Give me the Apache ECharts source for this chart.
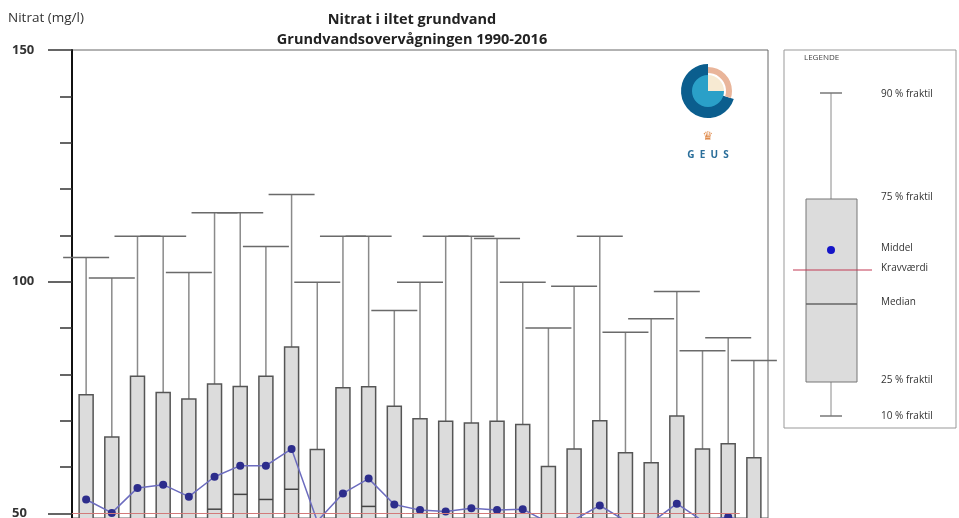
<!DOCTYPE html>
<html>
<head>
<meta charset="utf-8">
<script src="https://cdn.jsdelivr.net/npm/echarts@6/dist/echarts.min.js"></script>
<style>
  html, body { margin: 0; padding: 0; background: #fff; }
  #main { width: 959px; height: 518px; }
</style>
</head>
<body>
<div id="main"></div>
<script>
// years 1990-2016
var years = [1990, 1991, 1992, 1993, 1994, 1995, 1996, 1997, 1998, 1999, 2000, 2001, 2002, 2003,
  2004, 2005, 2006, 2007, 2008, 2009, 2010, 2011, 2012, 2013, 2014, 2015, 2016];
// 90 % fraktil
var p90 = [105.2, 100.8, 109.8, 109.8, 102.0, 114.9, 114.9, 107.6, 118.8, 99.9, 109.8, 109.8, 93.8, 99.9,
  109.8, 109.8, 109.3, 99.9, 90.0, 99.0, 109.8, 89.1, 92.0, 97.9, 85.1, 87.9, 83.0];
// 75 % fraktil
var p75 = [75.6, 66.5, 79.6, 76.1, 74.7, 77.9, 77.4, 79.6, 85.9, 63.8, 77.1, 77.3, 73.1, 70.4,
  69.9, 69.5, 69.9, 69.2, 60.1, 63.9, 70.0, 63.1, 60.9, 71.0, 63.9, 65.0, 62.0];
// median
var median = [42, 38, 46, 44, 40, 50.9, 54.1, 53.0, 55.2, 35, 45, 51.5, 40, 38,
  36, 37, 38, 37, 32, 34, 40, 33, 30, 38, 32, 33, 31];
// middel
var mean = [53.0, 50.1, 55.5, 56.2, 53.6, 57.9, 60.3, 60.3, 63.9, 48.3, 54.3, 57.5, 51.9, 50.7,
  50.4, 51.1, 50.7, 50.9, 48.0, 48.6, 51.7, 48.4, 48.0, 52.1, 48.4, 49.2, 48.0];
// 25 % fraktil
var p25 = [15, 12, 18, 16, 14, 17, 18, 17, 20, 10, 16, 18, 13, 12,
  11, 11, 12, 11, 8, 9, 12, 8, 7, 10, 8, 8, 7];
// 10 % fraktil
var p10 = [1, 1, 1, 1, 1, 1, 1, 1, 1, 1, 1, 1, 1, 1,
  1, 1, 1, 1, 1, 1, 1, 1, 1, 1, 1, 1, 1];
var kravvaerdi = 50;
var majorTicks = [50, 100, 150];
var minorTicks = [60, 70, 80, 90, 110, 120, 130, 140];

var boxData = years.map(function (y, i) {
  return [y, p10[i], p25[i], median[i], p75[i], p90[i]];
});
var meanData = years.map(function (y, i) { return [y, mean[i]]; });

var chart = echarts.init(document.getElementById('main'));

function renderBox(params, api) {
  var x = api.value(0);
  var c10 = api.coord([x, api.value(1)]);
  var c25 = api.coord([x, api.value(2)]);
  var cMed = api.coord([x, api.value(3)]);
  var c75 = api.coord([x, api.value(4)]);
  var c90 = api.coord([x, api.value(5)]);
  var bw = 14, cw = 46, cx = c90[0];
  var whisker = { stroke: '#8a8a8a', lineWidth: 1.5 };
  var cap = { stroke: '#6a6a6a', lineWidth: 1.5 };
  return {
    type: 'group',
    children: [
      { type: 'line', shape: { x1: cx, y1: c90[1], x2: cx, y2: c75[1] }, style: whisker },
      { type: 'line', shape: { x1: cx - cw / 2, y1: c90[1], x2: cx + cw / 2, y2: c90[1] }, style: cap },
      { type: 'line', shape: { x1: cx, y1: c25[1], x2: cx, y2: c10[1] }, style: whisker },
      { type: 'line', shape: { x1: cx - cw / 2, y1: c10[1], x2: cx + cw / 2, y2: c10[1] }, style: cap },
      { type: 'rect', shape: { x: cx - bw / 2, y: c75[1], width: bw, height: c25[1] - c75[1] },
        style: { fill: '#dcdcdc', stroke: '#555', lineWidth: 1.5 } },
      { type: 'line', shape: { x1: cx - bw / 2, y1: cMed[1], x2: cx + bw / 2, y2: cMed[1] },
        style: { stroke: '#444', lineWidth: 1.5 } }
    ]
  };
}

var option = {
  backgroundColor: '#fff',
  animation: false,
  textStyle: { fontFamily: 'Open Sans' },
  title: {
    text: 'Nitrat i iltet grundvand\nGrundvandsovervågningen 1990-2016',
    left: 407,
    top: 5,
    textAlign: 'center',
    textStyle: { fontSize: 14.5, fontWeight: 'bold', color: '#222', lineHeight: 20, fontFamily: 'Open Sans' }
  },
  grid: {
    left: 72, right: 191, top: 50, bottom: 0,
    show: true, borderColor: '#666', borderWidth: 1,
    outerBoundsMode: 'none'
  },
  xAxis: {
    type: 'value', min: 1989.45, max: 2016.55, show: false
  },
  yAxis: [{
    type: 'value', min: 49, max: 150, position: 'left',
    axisLine: { show: true, lineStyle: { color: '#111', width: 2 } },
    axisTick: { show: true, length: 24, customValues: majorTicks, lineStyle: { color: '#333', width: 1.5 } },
    axisLabel: {
      show: true, customValues: majorTicks, align: 'left', margin: 60,
      fontSize: 13, fontWeight: 'bold', color: '#333', fontFamily: 'Open Sans'
    },
    splitLine: { show: false }
  }, {
    type: 'value', min: 49, max: 150, position: 'left',
    axisLine: { show: false },
    axisTick: { show: true, length: 12, customValues: minorTicks, lineStyle: { color: '#333', width: 1.5 } },
    axisLabel: { show: false },
    splitLine: { show: false }
  }],
  series: [{
    type: 'custom',
    name: 'Fraktiler',
    renderItem: renderBox,
    encode: { x: 0, y: [1, 2, 3, 4, 5] },
    data: boxData,
    clip: false,
    z: 2
  }, {
    type: 'line',
    name: 'Middel',
    data: meanData,
    symbol: 'circle',
    symbolSize: 8,
    itemStyle: { color: '#2d2d8c' },
    lineStyle: { color: '#6c6cbf', width: 1.5 },
    z: 4,
    markLine: {
      silent: true,
      symbol: 'none',
      label: { show: false },
      lineStyle: { color: '#d27a7a', width: 1, type: 'solid' },
      data: [[{ coord: [years[0] - 0.55, kravvaerdi] }, { coord: [years[years.length - 1] - 0.55, kravvaerdi] }]]
    }
  }],
  graphic: [
    { type: 'text', left: 8, top: 11, style: { text: 'Nitrat (mg/l)', fontSize: 13.5, fill: '#333', fontFamily: 'Open Sans' } },
    // GEUS logo
    { type: 'sector', shape: { cx: 708, cy: 91, r: 27, r0: 0, startAngle: 0.3, endAngle: Math.PI * 1.5 }, style: { fill: '#0b5e8e' } },
    { type: 'sector', shape: { cx: 708, cy: 91, r: 24, r0: 18, startAngle: -Math.PI / 2, endAngle: 0.3 }, style: { fill: '#e9b59a' } },
    { type: 'sector', shape: { cx: 708, cy: 91, r: 16, r0: 0, startAngle: 0, endAngle: Math.PI * 1.5 }, style: { fill: '#2aa0c8' } },
    { type: 'sector', shape: { cx: 708, cy: 91, r: 16, r0: 0, startAngle: -Math.PI / 2, endAngle: 0 }, style: { fill: '#f7ead2' } },
    { type: 'text', x: 708, y: 137, style: { text: '♛', fontSize: 12, fill: '#e08a4a', align: 'center', verticalAlign: 'middle', fontFamily: 'DejaVu Sans' } },
    { type: 'text', x: 708, y: 155, style: { text: 'G  E  U  S', fontSize: 10, fontWeight: 'bold', fill: '#2a6e9a', align: 'center', verticalAlign: 'middle', fontFamily: 'Open Sans' } },
    // legend box
    { type: 'rect', shape: { x: 784, y: 50, width: 172, height: 378 }, style: { fill: 'none', stroke: '#999', lineWidth: 1 } },
    { type: 'text', x: 804, y: 58, style: { text: 'LEGENDE', fontSize: 8, fill: '#444', verticalAlign: 'middle', fontFamily: 'Open Sans' } },
    { type: 'line', shape: { x1: 831, y1: 93, x2: 831, y2: 199 }, style: { stroke: '#8a8a8a', lineWidth: 1 } },
    { type: 'line', shape: { x1: 820, y1: 93, x2: 842, y2: 93 }, style: { stroke: '#777', lineWidth: 1.5 } },
    { type: 'line', shape: { x1: 831, y1: 382, x2: 831, y2: 416 }, style: { stroke: '#8a8a8a', lineWidth: 1 } },
    { type: 'line', shape: { x1: 820, y1: 416, x2: 842, y2: 416 }, style: { stroke: '#777', lineWidth: 1.5 } },
    { type: 'rect', shape: { x: 806, y: 199, width: 51, height: 183 }, style: { fill: '#dcdcdc', stroke: '#777', lineWidth: 1 } },
    { type: 'line', shape: { x1: 806, y1: 304, x2: 857, y2: 304 }, style: { stroke: '#666', lineWidth: 1.5 } },
    { type: 'line', shape: { x1: 793, y1: 270, x2: 872, y2: 270 }, style: { stroke: '#c23a55', lineWidth: 1.2 } },
    { type: 'circle', shape: { cx: 831, cy: 250, r: 4 }, style: { fill: '#1515c8' } },
    { type: 'text', x: 881, y: 94, style: { text: '90 % fraktil', fontSize: 10, fill: '#333', verticalAlign: 'middle', fontFamily: 'Open Sans' } },
    { type: 'text', x: 881, y: 197, style: { text: '75 % fraktil', fontSize: 10, fill: '#333', verticalAlign: 'middle', fontFamily: 'Open Sans' } },
    { type: 'text', x: 881, y: 248, style: { text: 'Middel', fontSize: 10, fill: '#333', verticalAlign: 'middle', fontFamily: 'Open Sans' } },
    { type: 'text', x: 881, y: 268, style: { text: 'Kravværdi', fontSize: 10, fill: '#333', verticalAlign: 'middle', fontFamily: 'Open Sans' } },
    { type: 'text', x: 881, y: 302, style: { text: 'Median', fontSize: 10, fill: '#333', verticalAlign: 'middle', fontFamily: 'Open Sans' } },
    { type: 'text', x: 881, y: 380, style: { text: '25 % fraktil', fontSize: 10, fill: '#333', verticalAlign: 'middle', fontFamily: 'Open Sans' } },
    { type: 'text', x: 881, y: 416, style: { text: '10 % fraktil', fontSize: 10, fill: '#333', verticalAlign: 'middle', fontFamily: 'Open Sans' } }
  ]
};

chart.setOption(option);
</script>
</body>
</html>
